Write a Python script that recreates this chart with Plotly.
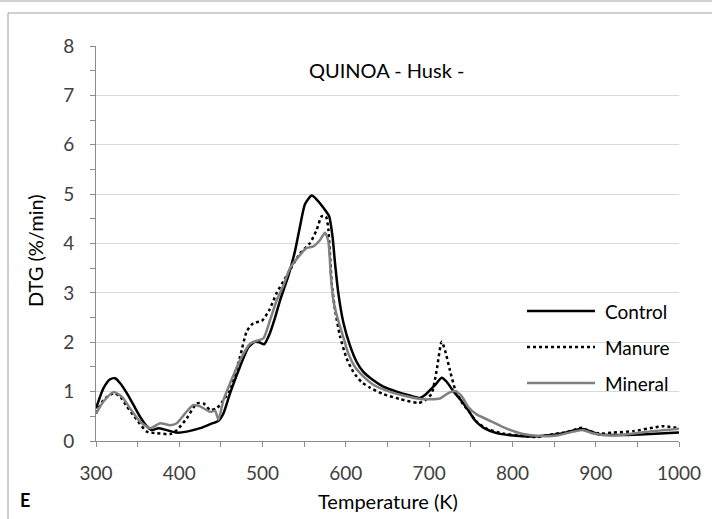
import plotly.graph_objects as go

# ---- data ----
names = ["Control", "Manure", "Mineral"]

control_T = [300, 309, 317, 323, 329, 337, 345, 353, 361, 367, 375, 385, 397, 409, 425, 437, 447, 453,
             461, 473, 483, 491, 496, 502, 508, 515, 521, 531, 539, 545, 551, 559, 565, 575, 580, 584,
             587, 591, 597, 605, 613, 621, 633, 645, 661, 677, 689, 695, 701, 707, 715, 721, 729, 739,
             747, 755, 765, 781, 801, 821, 841, 861, 877, 883, 893, 905, 925, 953, 977, 1000]
control_v = [0.66, 1.07, 1.25, 1.27, 1.17, 0.97, 0.73, 0.49, 0.30, 0.22, 0.26, 0.22, 0.17, 0.19, 0.26, 0.34, 0.41, 0.56,
             0.97, 1.51, 1.90, 2.01, 2.00, 1.96, 2.15, 2.50, 2.85, 3.35, 3.85, 4.35, 4.80, 4.97, 4.89, 4.68, 4.55, 4.14,
             3.60, 2.99, 2.40, 1.93, 1.60, 1.40, 1.23, 1.10, 1.00, 0.92, 0.87, 0.93, 1.03, 1.13, 1.28, 1.20, 1.01, 0.81,
             0.62, 0.42, 0.27, 0.16, 0.11, 0.09, 0.11, 0.16, 0.23, 0.25, 0.20, 0.13, 0.12, 0.13, 0.15, 0.17]

manure_T = [300, 309, 321, 329, 337, 349, 361, 373, 389, 397, 409, 421, 429, 437, 445, 453, 461, 473, 481,
            489, 499, 508, 517, 529, 545, 557, 565, 571, 576, 579, 583, 587, 593, 601, 609, 619, 629, 645,
            665, 687, 695, 703, 709, 715, 719, 725, 731, 739, 749, 757, 769, 789, 809, 829, 849, 865, 873,
            883, 893, 905, 921, 945, 969, 981, 1000]
manure_v = [0.56, 0.83, 0.97, 0.90, 0.70, 0.43, 0.19, 0.16, 0.14, 0.22, 0.46, 0.76, 0.76, 0.63, 0.66, 0.83, 1.03, 1.71, 2.22,
            2.39, 2.43, 2.65, 3.00, 3.35, 3.80, 4.01, 4.28, 4.55, 4.55, 4.28, 3.20, 2.66, 2.12, 1.67, 1.40, 1.19, 1.08, 0.95,
            0.85, 0.77, 0.82, 0.96, 1.43, 2.01, 1.84, 1.43, 1.06, 0.79, 0.57, 0.39, 0.25, 0.15, 0.11, 0.08, 0.14, 0.18, 0.22,
            0.27, 0.20, 0.15, 0.17, 0.20, 0.27, 0.30, 0.26]

mineral_T = [300, 309, 321, 331, 341, 353, 365, 377, 389, 397, 407, 417, 425, 437, 443, 447, 453, 461, 473,
             485, 493, 501, 509, 517, 525, 533, 545, 553, 561, 569, 575, 579, 582, 585, 589, 597, 603, 611,
             621, 633, 649, 669, 689, 713, 721, 731, 739, 747, 757, 773, 793, 813, 833, 853, 873, 885, 897,
             921, 945, 969, 1000]
mineral_v = [0.56, 0.80, 0.99, 0.90, 0.66, 0.39, 0.26, 0.36, 0.32, 0.36, 0.56, 0.73, 0.70, 0.59, 0.61, 0.43, 0.83, 1.17, 1.64,
             1.97, 2.03, 2.08, 2.45, 2.85, 3.15, 3.50, 3.77, 3.91, 3.94, 4.07, 4.22, 4.04, 3.33, 2.85, 2.55, 2.10, 1.77, 1.50,
             1.31, 1.14, 1.02, 0.92, 0.85, 0.86, 0.95, 1.01, 0.91, 0.69, 0.54, 0.41, 0.25, 0.14, 0.10, 0.11, 0.19, 0.22, 0.15,
             0.11, 0.15, 0.20, 0.25]

x_ticks = [300, 400, 500, 600, 700, 800, 900, 1000]
y_ticks = [0, 1, 2, 3, 4, 5, 6, 7, 8]

title_text = "QUINOA - Husk -"
x_title = "Temperature (K)"
y_title = "DTG (%/min)"
panel_label = "E"

# ---- styling ----
FONT = "Lato"
W, H = 712, 519
L, R, T, B = 96, 33, 46, 78
PW, PH = W - L - R, H - T - B

def px_x(p):
    return (p - L) / PW

def px_y(p):
    return (H - B - p) / PH

colors = ["#000000", "#000000", "#808080"]
dashes = ["solid", "dot", "solid"]
widths = [2.5, 2.5, 2.5]

fig = go.Figure()
for nm, xs, ys, c, d, w in zip(names, [control_T, manure_T, mineral_T],
                                [control_v, manure_v, mineral_v], colors, dashes, widths):
    fig.add_trace(go.Scatter(x=xs, y=ys, mode="lines", name=nm,
                             line=dict(color=c, dash=d, width=w, shape="spline", smoothing=0.6),
                             showlegend=False, hoverinfo="skip"))

axis_col = "#8c8c8c"
tick_font = dict(family=FONT, size=19, color="#404040")
fig.update_xaxes(range=[300, 1000], tickvals=x_ticks, ticks="outside", ticklen=5, tickcolor=axis_col,
                 showline=True, linecolor=axis_col, linewidth=1, showgrid=False, zeroline=False,
                 minor=dict(dtick=50, ticks="outside", ticklen=5, tickcolor=axis_col, showgrid=False),
                 tickfont=tick_font, ticklabelstandoff=10)
fig.update_yaxes(range=[0, 8], tickvals=y_ticks, ticks="outside", ticklen=5, tickcolor=axis_col,
                 showline=True, linecolor=axis_col, linewidth=1, showgrid=True, gridcolor="#d9d9d9",
                 gridwidth=1, zeroline=False,
                 minor=dict(dtick=0.5, ticks="outside", ticklen=5, tickcolor=axis_col, showgrid=False),
                 tickfont=tick_font, ticklabelstandoff=12)

annotations = [
    dict(text=title_text, x=px_x(386), y=px_y(70), xref="paper", yref="paper", showarrow=False,
         font=dict(family=FONT, size=20, color="#000000"), xanchor="center", yanchor="middle"),
    dict(text=x_title, x=px_x(388), y=px_y(501), xref="paper", yref="paper", showarrow=False,
         font=dict(family=FONT, size=20, color="#000000"), xanchor="center", yanchor="middle"),
    dict(text=y_title, x=px_x(35), y=px_y(251), xref="paper", yref="paper", showarrow=False, textangle=-90,
         font=dict(family=FONT, size=20, color="#000000"), xanchor="center", yanchor="middle"),
    dict(text="<b>" + panel_label + "</b>", x=px_x(25), y=px_y(500), xref="paper", yref="paper",
         showarrow=False, font=dict(family=FONT, size=18, color="#000000"), xanchor="center", yanchor="middle"),
]

shapes = [
    # outer panel frame
    dict(type="line", xref="paper", yref="paper", x0=px_x(0), x1=px_x(W), y0=px_y(1), y1=px_y(1),
         line=dict(color="#a0a0a0", width=1)),
    dict(type="line", xref="paper", yref="paper", x0=px_x(8), x1=px_x(W + 5), y0=px_y(13), y1=px_y(13),
         line=dict(color="#a0a0a0", width=1)),
    dict(type="line", xref="paper", yref="paper", x0=px_x(8), x1=px_x(8), y0=px_y(13), y1=px_y(H + 5),
         line=dict(color="#a0a0a0", width=1)),
]

# custom legend
leg_y = [311, 347, 383]
for nm, c, d, w, yy in zip(names, colors, dashes, widths, leg_y):
    shapes.append(dict(type="line", xref="paper", yref="paper", x0=px_x(527), x1=px_x(595),
                       y0=px_y(yy), y1=px_y(yy), line=dict(color=c, dash=d, width=w)))
    annotations.append(dict(text=nm, x=px_x(603), y=px_y(yy), xref="paper", yref="paper", showarrow=False,
                            xanchor="left", yanchor="middle",
                            font=dict(family=FONT, size=19, color="#000000")))

fig.update_layout(width=W, height=H, margin=dict(l=L, r=R, t=T, b=B, autoexpand=False),
                  plot_bgcolor="white", paper_bgcolor="white", hovermode=False,
                  annotations=annotations, shapes=shapes, showlegend=False)

fig.write_html("out.html", config={"displayModeBar": False, "staticPlot": True},
               post_script="document.body.style.margin='0px';document.body.style.overflow='hidden';")
